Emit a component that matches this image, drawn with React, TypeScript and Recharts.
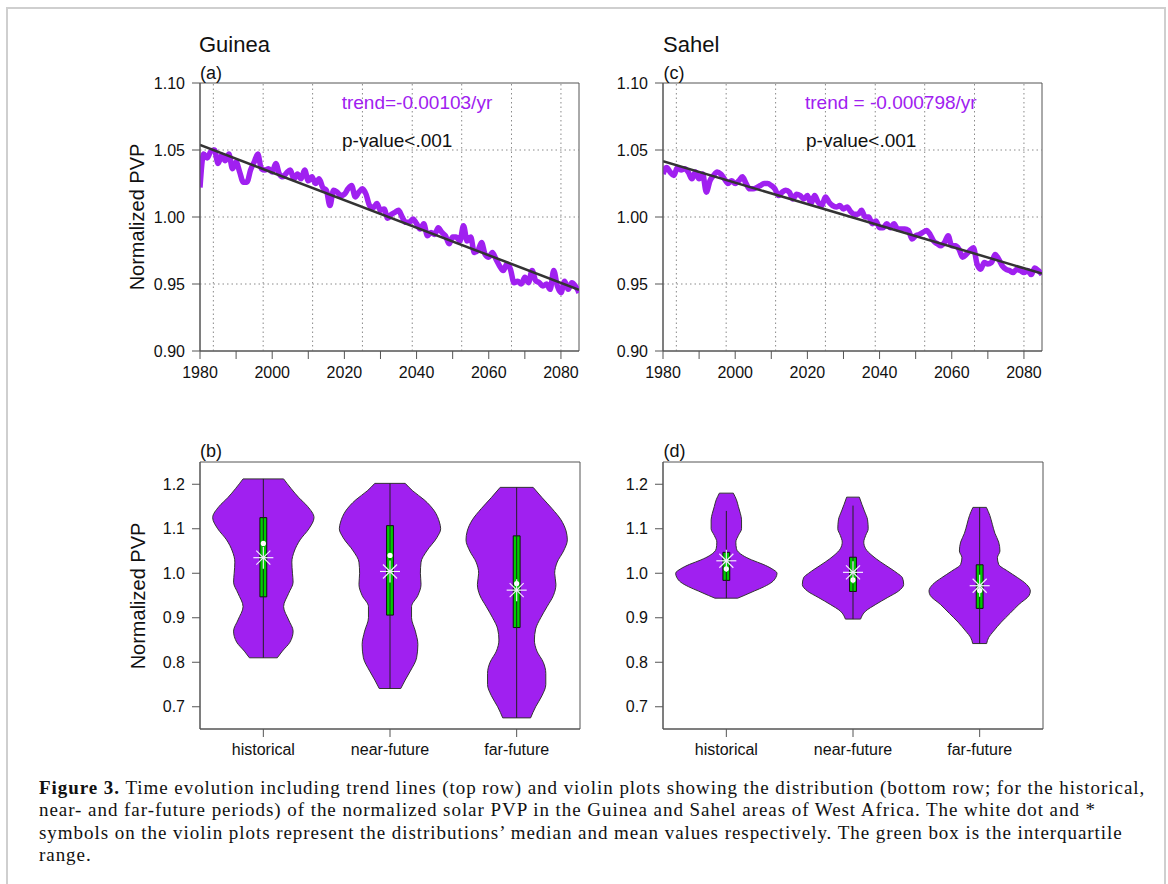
import React from "react";
import {
  LineChart,
  Line,
  ComposedChart,
  Area,
  XAxis,
  YAxis,
  ReferenceLine,
  ReferenceArea,
  ReferenceDot,
} from "recharts";

// ---- time series (annual) ----
const FIRST_YEAR = 1980;

const GUINEA_PVP = [
  1.022, 1.047, 1.044, 1.049, 1.05, 1.04, 1.046, 1.042, 1.047, 1.036,
  1.041, 1.0335, 1.026, 1.026, 1.035, 1.041, 1.047, 1.036, 1.035, 1.036,
  1.0335, 1.04, 1.032, 1.03, 1.033, 1.035, 1.0285, 1.032, 1.0285, 1.035,
  1.027, 1.03, 1.025, 1.0285, 1.022, 1.02, 1.0085, 1.02, 1.0185, 1.016,
  1.017, 1.021, 1.0235, 1.015, 1.0185, 1.021, 1.017, 1.0085, 1.007, 1.01,
  1.005, 1.006, 0.999, 1.002, 1.0035, 1.005, 1.0, 0.996, 0.996, 0.9985,
  0.995, 0.991, 0.995, 0.986, 0.9885, 0.987, 0.992, 0.9885, 0.986, 0.98,
  0.985, 0.985, 0.982, 0.9935, 0.982, 0.985, 0.9735, 0.975, 0.981, 0.972,
  0.97, 0.9735, 0.9685, 0.9635, 0.96, 0.965, 0.961, 0.951, 0.952, 0.95,
  0.955, 0.951, 0.96, 0.9525, 0.951, 0.9485, 0.95, 0.946, 0.96, 0.9485,
  0.9435, 0.952, 0.946, 0.951, 0.9485, 0.9435,
];

const SAHEL_PVP = [
  1.032, 1.037, 1.0335, 1.031, 1.037, 1.035, 1.036, 1.0335, 1.0285, 1.0335,
  1.0285, 1.032, 1.0185, 1.027, 1.031, 1.0335, 1.032, 1.0285, 1.025, 1.027,
  1.025, 1.027, 1.03, 1.025, 1.021, 1.021, 1.022, 1.0235, 1.025, 1.025,
  1.0235, 1.021, 1.016, 1.0185, 1.02, 1.0185, 1.0135, 1.017, 1.016, 1.0135,
  1.016, 1.01, 1.016, 1.011, 1.0085, 1.015, 1.011, 1.0085, 1.0075, 1.0085,
  1.006, 1.0075, 1.004, 1.002, 1.002, 1.005, 1.0, 1.0, 0.995, 0.997,
  0.992, 0.992, 0.995, 0.992, 0.995, 0.991, 0.991, 0.991, 0.99, 0.9835,
  0.986, 0.987, 0.9885, 0.99, 0.987, 0.982, 0.98, 0.9785, 0.981, 0.986,
  0.9785, 0.9785, 0.976, 0.97, 0.972, 0.975, 0.977, 0.965, 0.961, 0.966,
  0.965, 0.966, 0.972, 0.9685, 0.9635, 0.961, 0.96, 0.9585, 0.961, 0.96,
  0.9585, 0.96, 0.957, 0.962, 0.96, 0.957,
];

// fitted trend line, value at first and last year
const GUINEA_TREND = [1.0538, 0.9457];
const SAHEL_TREND = [1.0416, 0.9578];

const YEAR_TICKS = [1980, 1990, 2000, 2010, 2020, 2030, 2040, 2050, 2060, 2070, 2080];
const YEAR_LABELS = [1980, 2000, 2020, 2040, 2060, 2080];
const GRID_YEARS = [1983.7, 1997.5, 2011.2, 2025.0, 2038.8, 2052.5, 2066.3, 2080.0];
const PVP_TICKS = [0.9, 0.95, 1.0, 1.05, 1.1];
const PVP_GRID = [0.95, 1.0, 1.05];

// ---- violins: level -> half width (fraction of category spacing) ----
const PERIODS = ["historical", "near-future", "far-future"];
const VIOLIN_TICKS = [0.7, 0.8, 0.9, 1.0, 1.1, 1.2];

const G_HIST_LEVELS = [1.212, 1.19, 1.17, 1.15, 1.125, 1.1, 1.075, 1.05, 1.025, 1.0, 0.98, 0.955, 0.925, 0.895, 0.87, 0.845, 0.825, 0.81];
const G_HIST_WIDTHS = [0.16, 0.22, 0.28, 0.35, 0.4, 0.36, 0.29, 0.245, 0.225, 0.23, 0.235, 0.2, 0.16, 0.2, 0.235, 0.21, 0.15, 0.11];
const G_NEAR_LEVELS = [1.202, 1.185, 1.165, 1.14, 1.115, 1.1, 1.08, 1.05, 1.025, 1.0, 0.975, 0.95, 0.925, 0.9, 0.87, 0.84, 0.81, 0.78, 0.76, 0.741];
const G_NEAR_WIDTHS = [0.12, 0.18, 0.27, 0.35, 0.39, 0.4, 0.37, 0.29, 0.245, 0.24, 0.245, 0.22, 0.17, 0.17, 0.2, 0.22, 0.21, 0.16, 0.12, 0.085];
const G_FAR_LEVELS = [1.193, 1.17, 1.145, 1.12, 1.095, 1.075, 1.05, 1.025, 1.0, 0.975, 0.95, 0.925, 0.9, 0.875, 0.85, 0.825, 0.8, 0.775, 0.75, 0.725, 0.7, 0.675];
const G_FAR_WIDTHS = [0.13, 0.2, 0.28, 0.35, 0.39, 0.4, 0.37, 0.32, 0.3, 0.31, 0.29, 0.24, 0.19, 0.15, 0.14, 0.16, 0.21, 0.23, 0.23, 0.2, 0.15, 0.11];

const S_HIST_LEVELS = [1.18, 1.165, 1.15, 1.135, 1.12, 1.1, 1.085, 1.07, 1.055, 1.04, 1.03, 1.02, 1.01, 1.0, 0.99, 0.98, 0.97, 0.96, 0.95, 0.944];
const S_HIST_WIDTHS = [0.055, 0.08, 0.095, 0.11, 0.12, 0.12, 0.095, 0.075, 0.08, 0.13, 0.2, 0.29, 0.36, 0.4, 0.39, 0.36, 0.3, 0.22, 0.14, 0.09];
const S_NEAR_LEVELS = [1.171, 1.155, 1.14, 1.12, 1.1, 1.085, 1.07, 1.055, 1.04, 1.025, 1.01, 1.0, 0.99, 0.975, 0.96, 0.945, 0.93, 0.915, 0.897];
const S_NEAR_WIDTHS = [0.05, 0.07, 0.09, 0.115, 0.12, 0.1, 0.085, 0.1, 0.15, 0.22, 0.3, 0.35, 0.39, 0.4, 0.36, 0.27, 0.18, 0.1, 0.06];
const S_FAR_LEVELS = [1.148, 1.13, 1.11, 1.09, 1.07, 1.05, 1.035, 1.02, 1.005, 0.99, 0.975, 0.96, 0.95, 0.93, 0.91, 0.89, 0.87, 0.855, 0.842];
const S_FAR_WIDTHS = [0.053, 0.08, 0.1, 0.12, 0.15, 0.16, 0.14, 0.15, 0.22, 0.3, 0.37, 0.4, 0.39, 0.31, 0.24, 0.17, 0.11, 0.07, 0.055];

// per period: historical, near, far
const G_Q1 = [0.947, 0.906, 0.878];
const G_Q3 = [1.125, 1.107, 1.084];
const G_MEDIAN = [1.067, 1.04, 0.977];
const G_MEAN = [1.035, 1.004, 0.962];
const G_WHISK_LO = [0.81, 0.741, 0.675];
const G_WHISK_HI = [1.212, 1.202, 1.193];

const S_Q1 = [0.984, 0.959, 0.921];
const S_Q3 = [1.047, 1.036, 1.019];
const S_MEDIAN = [1.01, 0.985, 0.961];
const S_MEAN = [1.028, 1.002, 0.972];
const S_WHISK_LO = [0.944, 0.897, 0.842];
const S_WHISK_HI = [1.14, 1.152, 1.148];

const PURPLE = "#A020F0";
const GREEN = "#00CC00";
const AXIS = "#555";
const SANS = '"Liberation Sans", Arial, sans-serif';
const BOX_HALF = 0.027;

const tickStyle = { fill: "#111", fontSize: 16, fontFamily: SANS };

function TrendPanel({ pvp, trend, left }: { pvp: number[]; trend: number[]; left: number }) {
  const rows: any[] = pvp.map((v, i) => ({ year: FIRST_YEAR + i, pvp: v }));
  rows[0].trend = trend[0];
  rows[rows.length - 1].trend = trend[1];
  const lastYear = FIRST_YEAR + pvp.length - 1;

  return (
    <div style={{ position: "absolute", left, top: 60 }}>
      <LineChart width={480} height={330} data={rows} margin={{ top: 23, right: 21, bottom: 9, left: 0 }}>
        <XAxis
          type="number"
          dataKey="year"
          domain={[FIRST_YEAR, lastYear]}
          ticks={YEAR_TICKS}
          tickFormatter={(v: number) => (YEAR_LABELS.includes(v) ? String(v) : "")}
          allowDataOverflow
          height={30}
          tickSize={8}
          tickMargin={8}
          stroke={AXIS}
          tick={tickStyle}
        />
        <YAxis
          type="number"
          domain={[0.9, 1.1]}
          ticks={PVP_TICKS}
          tickFormatter={(v: number) => v.toFixed(2)}
          allowDataOverflow
          width={80}
          tickSize={8}
          tickMargin={7}
          stroke={AXIS}
          tick={tickStyle}
        />
        {GRID_YEARS.map((g) => (
          <ReferenceLine key={"gx" + g} x={g} stroke="#8a8a8a" strokeDasharray="1.5 3" />
        ))}
        {PVP_GRID.map((g) => (
          <ReferenceLine key={"gy" + g} y={g} stroke="#8a8a8a" strokeDasharray="1.5 3" />
        ))}
        <ReferenceArea x1={FIRST_YEAR} x2={lastYear} y1={0.9} y2={1.1} fill="none" stroke={AXIS} />
        <Line
          type="monotone"
          dataKey="pvp"
          stroke={PURPLE}
          strokeWidth={5.5}
          dot={false}
          isAnimationActive={false}
        />
        <Line
          type="linear"
          dataKey="trend"
          stroke="#333"
          strokeWidth={2.5}
          dot={false}
          connectNulls
          isAnimationActive={false}
        />
      </LineChart>
    </div>
  );
}

const Asterisk = (props: any) => {
  const { cx, cy } = props;
  return (
    <g stroke="#f4ecff" strokeWidth={1.2}>
      <line x1={cx - 10} y1={cy} x2={cx + 10} y2={cy} />
      <line x1={cx} y1={cy - 11} x2={cx} y2={cy + 11} />
      <line x1={cx - 7} y1={cy - 7} x2={cx + 7} y2={cy + 7} />
      <line x1={cx - 7} y1={cy + 7} x2={cx + 7} y2={cy - 7} />
    </g>
  );
};

interface ViolinStats {
  q1: number[];
  q3: number[];
  median: number[];
  mean: number[];
  lo: number[];
  hi: number[];
}

function ViolinPanel({
  shapes,
  stats,
  left,
}: {
  shapes: { levels: number[]; widths: number[] }[];
  stats: ViolinStats;
  left: number;
}) {
  return (
    <div style={{ position: "absolute", left, top: 440 }}>
      <ComposedChart layout="vertical" width={480} height={330} margin={{ top: 22, right: 20, bottom: 11, left: 0 }}>
        <XAxis
          type="number"
          domain={[0.5, 3.5]}
          ticks={[1, 2, 3]}
          tickFormatter={(v: number) => PERIODS[v - 1] ?? ""}
          allowDataOverflow
          height={30}
          tickSize={8}
          tickMargin={7}
          stroke={AXIS}
          tick={tickStyle}
        />
        <YAxis
          type="number"
          dataKey="y"
          domain={[0.65, 1.25]}
          ticks={VIOLIN_TICKS}
          tickFormatter={(v: number) => v.toFixed(1)}
          allowDataOverflow
          reversed
          width={80}
          tickSize={8}
          tickMargin={7}
          stroke={AXIS}
          tick={tickStyle}
        />
        <ReferenceArea x1={0.5} x2={3.5} y1={0.65} y2={1.25} fill="none" stroke={AXIS} />
        {shapes.map((s, i) => {
          const c = i + 1;
          const data = s.levels.map((y, k) => ({ y, band: [c - s.widths[k], c + s.widths[k]] }));
          return (
            <Area
              key={"v" + i}
              data={data}
              dataKey="band"
              type="monotone"
              fill={PURPLE}
              fillOpacity={1}
              stroke="#333"
              strokeWidth={1}
              isAnimationActive={false}
            />
          );
        })}
        {shapes.map((s, i) => {
          const c = i + 1;
          const n = s.levels.length - 1;
          return (
            <React.Fragment key={"cap" + i}>
              <ReferenceLine
                segment={[
                  { x: c - s.widths[0], y: s.levels[0] },
                  { x: c + s.widths[0], y: s.levels[0] },
                ]}
                stroke="#333"
              />
              <ReferenceLine
                segment={[
                  { x: c - s.widths[n], y: s.levels[n] },
                  { x: c + s.widths[n], y: s.levels[n] },
                ]}
                stroke="#333"
              />
            </React.Fragment>
          );
        })}
        {PERIODS.map((p, i) => (
          <ReferenceLine
            key={"w" + p}
            segment={[
              { x: i + 1, y: stats.lo[i] },
              { x: i + 1, y: stats.hi[i] },
            ]}
            stroke="#222"
          />
        ))}
        {PERIODS.map((p, i) => (
          <ReferenceArea
            key={"b" + p}
            x1={i + 1 - BOX_HALF}
            x2={i + 1 + BOX_HALF}
            y1={stats.q1[i]}
            y2={stats.q3[i]}
            fill={GREEN}
            fillOpacity={1}
            stroke="#111"
            strokeOpacity={1}
          />
        ))}
        {PERIODS.map((p, i) => (
          <ReferenceDot key={"m" + p} x={i + 1} y={stats.median[i]} r={2.6} fill="#fff" stroke="none" />
        ))}
        {PERIODS.map((p, i) => (
          <ReferenceDot key={"a" + p} x={i + 1} y={stats.mean[i]} r={10} shape={Asterisk} />
        ))}
      </ComposedChart>
    </div>
  );
}

const GUINEA_SHAPES = [
  { levels: G_HIST_LEVELS, widths: G_HIST_WIDTHS },
  { levels: G_NEAR_LEVELS, widths: G_NEAR_WIDTHS },
  { levels: G_FAR_LEVELS, widths: G_FAR_WIDTHS },
];
const SAHEL_SHAPES = [
  { levels: S_HIST_LEVELS, widths: S_HIST_WIDTHS },
  { levels: S_NEAR_LEVELS, widths: S_NEAR_WIDTHS },
  { levels: S_FAR_LEVELS, widths: S_FAR_WIDTHS },
];

export default function App() {
  const txt = { fontFamily: SANS, fill: "#111" };
  return (
    <div style={{ position: "relative", width: 1168, height: 884, background: "#fff", overflow: "hidden" }}>
      <style>{"body{margin:0}"}</style>
      <div
        style={{
          position: "absolute",
          left: 6,
          top: 7,
          width: 1156,
          height: 920,
          border: "2px solid #cfcfcf",
        }}
      />
      <TrendPanel pvp={GUINEA_PVP} trend={GUINEA_TREND} left={120} />
      <TrendPanel pvp={SAHEL_PVP} trend={SAHEL_TREND} left={583.3} />
      <ViolinPanel
        shapes={GUINEA_SHAPES}
        stats={{ q1: G_Q1, q3: G_Q3, median: G_MEDIAN, mean: G_MEAN, lo: G_WHISK_LO, hi: G_WHISK_HI }}
        left={120}
      />
      <ViolinPanel
        shapes={SAHEL_SHAPES}
        stats={{ q1: S_Q1, q3: S_Q3, median: S_MEDIAN, mean: S_MEAN, lo: S_WHISK_LO, hi: S_WHISK_HI }}
        left={583.3}
      />

      <svg width={1168} height={884} style={{ position: "absolute", left: 0, top: 0, pointerEvents: "none" }}>
        <text x={199} y={51.7} fontSize={22} {...txt}>Guinea</text>
        <text x={663} y={51.7} fontSize={22} {...txt}>Sahel</text>
        <text x={200} y={79} fontSize={18} {...txt}>(a)</text>
        <text x={663.5} y={79} fontSize={18} {...txt}>(c)</text>
        <text x={200} y={457} fontSize={18} {...txt}>(b)</text>
        <text x={663.5} y={457} fontSize={18} {...txt}>(d)</text>
        <text x={341.7} y={109.3} fontSize={19} fontFamily={SANS} fill={PURPLE}>trend=-0.00103/yr</text>
        <text x={342} y={147} fontSize={19} {...txt}>p-value&lt;.001</text>
        <text x={805} y={109.3} fontSize={19} fontFamily={SANS} fill={PURPLE}>trend = -0.000798/yr</text>
        <text x={806} y={147} fontSize={19} {...txt}>p-value&lt;.001</text>
        <text x={144} y={217} fontSize={20} textAnchor="middle" transform="rotate(-90 144 217)" {...txt}>
          Normalized PVP
        </text>
        <text x={145} y={596} fontSize={20} textAnchor="middle" transform="rotate(-90 145 596)" {...txt}>
          Normalized PVP
        </text>
      </svg>

      <div
        style={{
          position: "absolute",
          left: 39,
          top: 777,
          fontFamily: '"Liberation Serif", "Times New Roman", serif',
          fontSize: 19,
          letterSpacing: "0.95px",
          lineHeight: "22.3px",
          color: "#111",
          whiteSpace: "nowrap",
        }}
      >
        <div>
          <b>Figure 3.</b> Time evolution including trend lines (top row) and violin plots showing the distribution (bottom row; for the historical,
        </div>
        <div>
          near- and far-future periods) of the normalized solar PVP in the Guinea and Sahel areas of West Africa. The white dot and *
        </div>
        <div>
          symbols on the violin plots represent the distributions’ median and mean values respectively. The green box is the interquartile
        </div>
        <div>range.</div>
      </div>
    </div>
  );
}
